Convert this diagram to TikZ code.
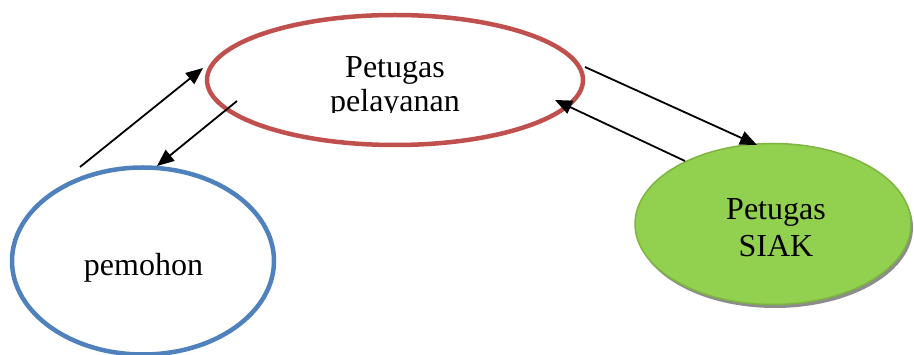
\documentclass[tikz,border=0pt]{standalone}
\usepackage{fontspec}
\setmainfont{Liberation Serif}
\usetikzlibrary{shapes.geometric,arrows.meta,calc,shadows}
\definecolor{redline}{HTML}{C0504D}
\definecolor{blueline}{HTML}{4F81BD}
\definecolor{greenfill}{HTML}{92D050}
\definecolor{greenline}{HTML}{7EB540}
\tikzset{
  ell/.style={ellipse,inner sep=0pt},
  txt/.style={font=\fontsize{32}{38}\selectfont,inner sep=0pt,anchor=base},
  arr/.style={line width=1.8pt,-{Triangle[length=17pt,width=14pt]}}
}
\begin{document}
\begin{tikzpicture}[x=1pt,y=-1pt]
\useasboundingbox (0,0) rectangle (914,355);
\fill[white] (0,0) rectangle (914,355);
\begin{scope}
\clip (0,0) rectangle (914,355);
\node[ell,draw=redline,line width=4.5pt,minimum width=376pt,minimum height=130pt] (pel) at (395,80) {};
\node[ell,draw=blueline,line width=4.5pt,minimum width=262pt,minimum height=187pt] (pem) at (143,261) {};
\node[ell,draw=greenline,line width=1.5pt,fill=greenfill,minimum width=276pt,minimum height=161pt,
  drop shadow={shadow xshift=2pt,shadow yshift=-3.5pt,fill=black!45,opacity=1}] (siak) at (773,224) {};
\end{scope}
\node[txt] (pelA) at (395,77.7) {Petugas};
\begin{scope}
\clip (300,85) rectangle (500,113);
\node[txt] (pelB) at (395,111.7) {pelayanan};
\end{scope}
\node[txt] (siakA) at (776,220) {Petugas};
\node[txt] (siakB) at (776,257) {SIAK};
\node[txt] (pemA) at (143.5,276) {pemohon};
\draw[arr] ($(pem.center)+(-63,-94)$) -- ($(pel.center)+(-192,-12)$);
\draw[arr] ($(pel.center)+(-158,21)$) -- ($(pem.center)+(14,-95)$);
\draw[arr] ($(pel.center)+(190,-13)$) -- ($(siak.center)+(-16,-79)$);
\draw[arr] ($(siak.center)+(-88,-63)$) -- ($(pel.center)+(160,20)$);
\end{tikzpicture}
\end{document}
